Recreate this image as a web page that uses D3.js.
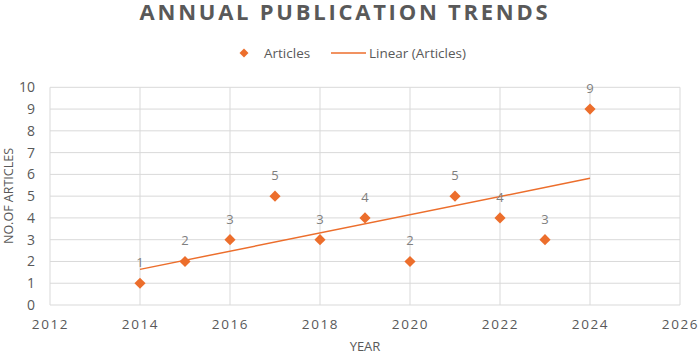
<!DOCTYPE html>
<html><head><meta charset="utf-8">
<script src="https://cdn.jsdelivr.net/npm/d3@7"></script>
<style>body{margin:0;background:#fff}svg{display:block}</style>
</head><body><svg id="c" width="699" height="355"></svg>
<script>
const years = [2014,2015,2016,2017,2018,2019,2020,2021,2022,2023,2024];
const articles = [1,2,3,5,3,4,2,5,4,3,9];
const xTicks = [2012,2014,2016,2018,2020,2022,2024,2026];
const yTicks = [0,1,2,3,4,5,6,7,8,9,10];
const title = "ANNUAL PUBLICATION TRENDS";
const xTitle = "YEAR", yTitle = "NO.OF ARTICLES";
const legendLabels = ["Articles","Linear (Articles)"];

const svg = d3.select("#c");
const font = "'Open Sans', sans-serif";
const orange = "#EC6E2C", grey = "#595959", grid = "#d9d9d9";
const x = d3.scaleLinear().domain([2012,2026]).range([50,680]);
const y = d3.scaleLinear().domain([0,10]).range([305,87.3]);
const diamond = d3.symbol(d3.symbolSquare);

// title
svg.append("text").attr("x",345).attr("y",19.5).attr("text-anchor","middle")
  .attr("font-family",font).attr("font-weight","bold").attr("font-size",22)
  .attr("letter-spacing",2.75).attr("fill",grey).text(title);

// legend
svg.append("path").attr("d",diamond.size(40)())
  .attr("transform","translate(244,53) rotate(45)").attr("fill",orange);
svg.append("text").attr("x",264).attr("y",57.5).attr("font-family",font).attr("font-size",13.5)
  .attr("fill",grey).text(legendLabels[0]);
svg.append("line").attr("x1",331).attr("x2",366).attr("y1",53).attr("y2",53).attr("stroke",orange).attr("stroke-width",1.5);
svg.append("text").attr("x",369).attr("y",57.5).attr("font-family",font).attr("font-size",13.5)
  .attr("fill",grey).text(legendLabels[1]);

// grid
const g = svg.append("g");
g.selectAll(".hg").data(yTicks).join("line")
  .attr("x1",x(2012)).attr("x2",x(2026)).attr("y1",d=>y(d)).attr("y2",d=>y(d))
  .attr("stroke",grid).attr("stroke-width",1);
g.selectAll(".vg").data(xTicks).join("line")
  .attr("x1",d=>x(d)).attr("x2",d=>x(d)).attr("y1",y(0)).attr("y2",y(10))
  .attr("stroke",grid).attr("stroke-width",1);

// axes labels
const xa = d3.axisBottom(x).tickValues(xTicks).tickFormat(d3.format("d")).tickSize(0).tickPadding(0);
const xg = svg.append("g").attr("transform",`translate(0,${y(0)})`).call(xa);
xg.select(".domain").remove();
xg.selectAll("text").attr("y",14).attr("dy","0.71em").attr("font-family",font).attr("font-size",13.5)
  .attr("letter-spacing",1.6).attr("fill",grey);
const ya = d3.axisLeft(y).tickValues(yTicks).tickSize(0).tickPadding(0);
const yg = svg.append("g").attr("transform",`translate(35,0)`).call(ya);
yg.select(".domain").remove();
yg.selectAll("text").attr("font-family",font).attr("font-size",14).attr("fill",grey);

svg.append("text").attr("x",365).attr("y",351).attr("text-anchor","middle")
  .attr("font-family",font).attr("font-size",13).attr("fill",grey).text(xTitle);
svg.append("text").attr("transform","translate(12.5,196) rotate(-90)").attr("text-anchor","middle")
  .attr("font-family",font).attr("font-size",12.5).attr("fill",grey).text(yTitle);

// trendline (least squares from data)
const mx = d3.mean(years), my = d3.mean(articles);
const slope = d3.sum(years,(v,i)=>(v-mx)*(articles[i]-my))/d3.sum(years,v=>(v-mx)**2);
const icpt = my - slope*mx;
const x0 = d3.min(years), x1 = d3.max(years);
svg.append("line").attr("x1",x(x0)).attr("x2",x(x1))
  .attr("y1",y(icpt+slope*x0)).attr("y2",y(icpt+slope*x1))
  .attr("stroke",orange).attr("stroke-width",1.5);

// points
svg.selectAll(".pt").data(years).join("path")
  .attr("d",diamond.size(62)())
  .attr("transform",(d,i)=>`translate(${x(d)},${y(articles[i])}) rotate(45)`).attr("fill",orange);
svg.selectAll(".lb").data(years).join("text")
  .attr("x",d=>x(d)).attr("y",(d,i)=>y(articles[i])-16).attr("text-anchor","middle")
  .attr("font-family",font).attr("font-size",13).attr("fill","#7f7f7f").text((d,i)=>articles[i]);
</script></body></html>
